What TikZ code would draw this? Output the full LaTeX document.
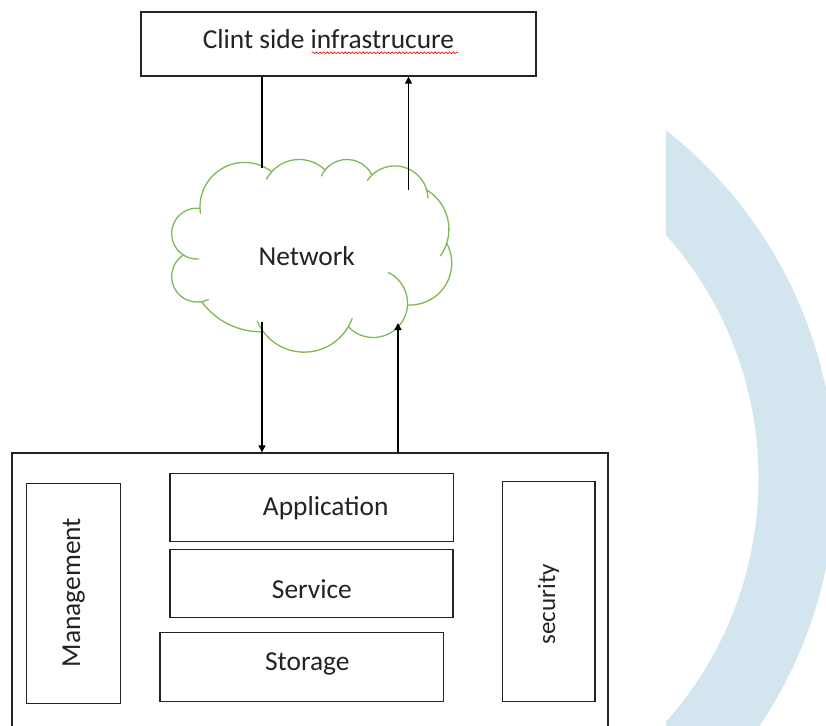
\documentclass[tikz,border=0pt]{standalone}
\usepackage{fontspec}
\setmainfont{Carlito}
\usetikzlibrary{arrows.meta,decorations.pathmorphing}
\definecolor{cloudgreen}{RGB}{125,185,90}
\definecolor{ringblue}{RGB}{211,230,240}
\definecolor{inkgray}{RGB}{35,35,35}
\tikzset{
  box/.style={draw=inkgray, line width=1.3pt, inner sep=0pt},
  lbl/.style={font=\fontsize{27.4}{30}\selectfont, text=inkgray, inner sep=0pt},
  conn/.style={draw=black, line width=1.2pt},
  tip/.style={-{Triangle[length=7pt,width=7pt]}},
  cloudline/.style={draw=cloudgreen, line width=1.3pt, line cap=round},
}
% One puff of the cloud: a circular arc from (#1,#2) through (#3,#4) to (#5,#6),
% running clockwise on the page, lengthened by #7 before its start and #8 after its end
\newcommand\cbump[8]{%
  \pgfmathsetmacro\bpx{(#3-#1)/10}%
  \pgfmathsetmacro\bpy{(#4-#2)/10}%
  \pgfmathsetmacro\bqx{(#5-#1)/10}%
  \pgfmathsetmacro\bqy{(#6-#2)/10}%
  \pgfmathsetmacro\bd{2*((\bpx)*(\bqy)-(\bpy)*(\bqx))}%
  \pgfmathsetmacro\bpp{(\bpx)*(\bpx)+(\bpy)*(\bpy)}%
  \pgfmathsetmacro\bqq{(\bqx)*(\bqx)+(\bqy)*(\bqy)}%
  \pgfmathsetmacro\bux{((\bqy)*(\bpp)-(\bpy)*(\bqq))/(\bd)}%
  \pgfmathsetmacro\buy{((\bpx)*(\bqq)-(\bqx)*(\bpp))/(\bd)}%
  \pgfmathsetmacro\br{10*sqrt((\bux)*(\bux)+(\buy)*(\buy))}%
  \pgfmathsetmacro\bcx{#1+10*(\bux)}%
  \pgfmathsetmacro\bcy{#2+10*(\buy)}%
  \pgfmathsetmacro\bta{atan2(\buy,-1*(\bux))}%
  \pgfmathsetmacro\btb{atan2((\buy)-(\bqy),(\bqx)-(\bux))}%
  \pgfmathsetmacro\btb{\btb-360*(\btb>\bta)}%
  \pgfmathsetmacro\bts{\bta+57.2958*#7/\br}%
  \pgfmathsetmacro\bte{\btb-57.2958*#8/\br}%
  \draw[cloudline] (\bcx,\bcy) ++(\bts:\br pt)
    arc[start angle=\bts, end angle=\bte, radius=\br pt];
}
\begin{document}
\begin{tikzpicture}[x=1pt,y=-1pt]
\useasboundingbox (0,0) rectangle (826,725);
\fill[white] (0,0) rectangle (826,725);
\clip (0,0) rectangle (826,725);

% decorative ring on the right
\begin{scope}
  \clip (666,0) rectangle (826,725);
  \fill[ringblue, even odd rule] (392,478.4) circle[radius=443pt]
    (392,478.4) circle[radius=366.5pt];
\end{scope}

% client side
\node[box, minimum width=395pt, minimum height=64pt] (client) at (338.5,44) {};
\node[lbl, anchor=base] (clienttext) at (328.4,48.3) {Clint side infrastrucure};
\draw[red, line width=0.6pt, decorate,
  decoration={snake, amplitude=0.9pt, segment length=3.6pt}]
  (311.7,52.8) -- (458,52.8);

% network cloud, puff by puff clockwise from the upper left
\cbump{200}{208.3}{231.7}{164.3}{271.7}{171.7}{5}{0}
\cbump{271.7}{171.7}{298}{159.5}{325}{170}{9}{0}
\cbump{325}{170}{348}{159.5}{372}{175}{7}{0}
\cbump{372}{175}{396.7}{166}{426.7}{190}{7}{8}
\cbump{426.7}{190}{448.3}{222}{446.7}{243.3}{0}{14}
\cbump{446.7}{243.3}{451.7}{265}{407.5}{305}{0}{0}
\cbump{407.5}{305}{372}{337.5}{348.3}{326.7}{40}{0}
\cbump{348.3}{326.7}{308}{352}{263.3}{331.7}{9}{12}
\cbump{263.3}{331.7}{228}{324}{201.7}{301.7}{0}{0}
\cbump{201.7}{301.7}{171.7}{278.3}{183.3}{255}{7}{0}
\cbump{183.3}{255}{171.7}{231.7}{200}{208.3}{16}{0}
\node[lbl, anchor=base] (network) at (306.7,265) {Network};

% server side
\node[box, minimum width=596pt, minimum height=307pt] (host) at (310,606.5) {};
\node[box, minimum width=94pt, minimum height=220pt] (mgmt) at (73.4,593.3) {};
\node[lbl, anchor=base, rotate=90] (mgmttext) at (80,592.5) {Management};
\node[box, minimum width=283.2pt, minimum height=68.4pt] (app) at (311.6,507.5) {};
\node[lbl, anchor=base] (apptext) at (325.7,515) {Application};
\node[box, minimum width=283pt, minimum height=68.4pt] (service) at (311.5,583.5) {};
\node[lbl, anchor=base] (servicetext) at (311.9,598.3) {Service};
\node[box, minimum width=283.7pt, minimum height=69pt] (storage) at (301.85,667.2) {};
\node[lbl, anchor=base] (storagetext) at (307.3,670) {Storage};
\node[box, minimum width=92.4pt, minimum height=220pt] (security) at (548.8,591.7) {};
\node[lbl, anchor=base, rotate=90, font=\fontsize{25}{28}\selectfont] (securitytext) at (555,604.2) {security};

% connectors
\coordinate (n1) at (262,168);
\coordinate (n2) at (408.5,190);
\coordinate (n3) at (262,322);
\coordinate (n4) at (398,323);
\draw[conn] (client.south -| n1) -- (n1);
\draw[conn, tip] (n2) -- (n2 |- client.south);
\draw[conn, tip] (n3) -- (n3 |- host.north);
\draw[conn, tip] (n4 |- host.north) -- (n4);
\end{tikzpicture}
\end{document}
